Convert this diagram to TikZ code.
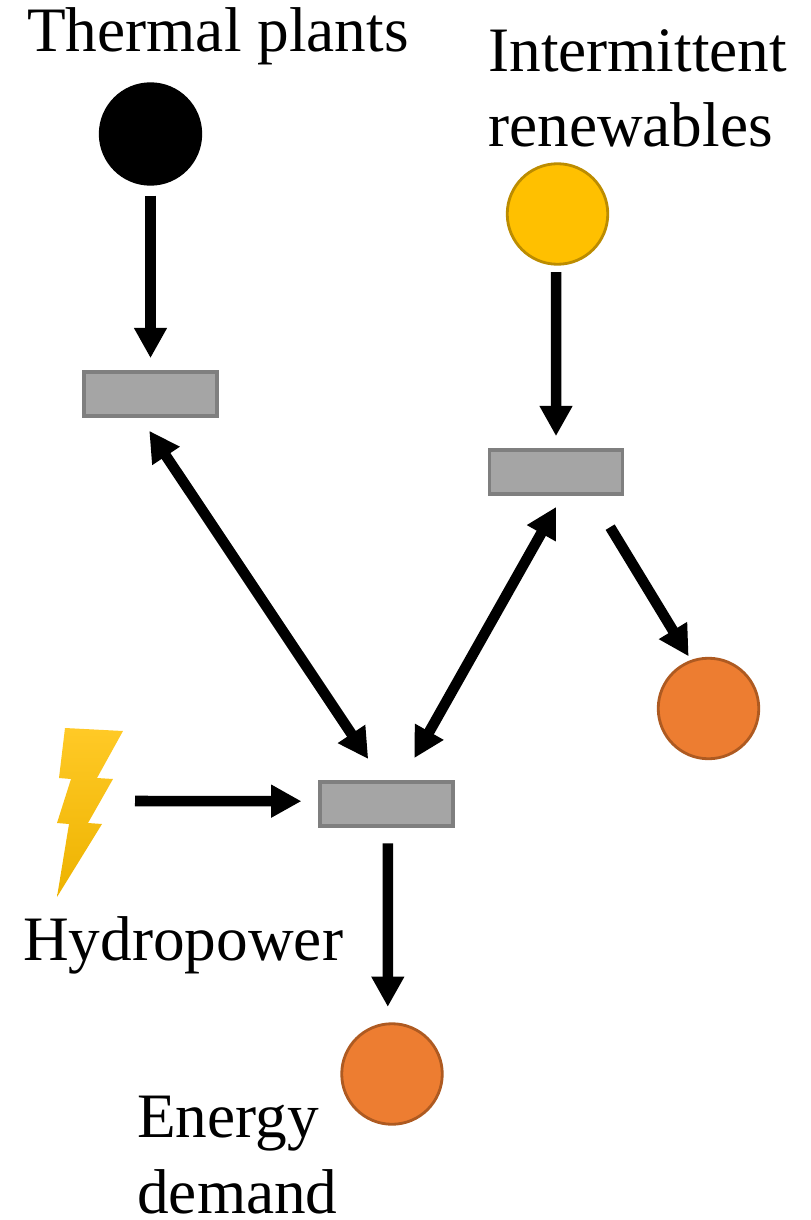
\documentclass[tikz,border=0pt]{standalone}
\usepackage{fontspec}
\setmainfont{Liberation Serif}
\usetikzlibrary{arrows.meta}

\definecolor{hubgray}{HTML}{A5A5A5}
\definecolor{hubedge}{HTML}{7F7F7F}
\definecolor{sunfill}{HTML}{FFC000}
\definecolor{sunedge}{HTML}{BC8C00}
\definecolor{loadfill}{HTML}{ED7D31}
\definecolor{loadedge}{HTML}{AE5A21}

\tikzset{
  hub/.style={draw=hubedge,fill=hubgray,line width=2.5pt,minimum width=94.5pt,minimum height=31.5pt,inner sep=0pt},
  plant/.style={circle,line width=2pt,minimum size=71.5pt,inner sep=0pt},
  flow/.style={line width=7.5pt,-{Triangle[length=21.5pt,width=22pt]}},
  duplex/.style={line width=7.5pt,{Triangle[length=21.5pt,width=22pt]}-{Triangle[length=21.5pt,width=22pt]}},
  label/.style={anchor=base west,inner sep=0pt,align=left,font=\fontsize{45}{53.6}\selectfont}
}

\begin{document}
\begin{tikzpicture}[x=0.025cm,y=-0.025cm]
  \useasboundingbox (0,0) rectangle (810,1220);

  \node (THERM) at (150.5,134) [plant,draw=black,fill=black] {};
  \node (SUN) at (557.5,214) [plant,draw=sunedge,fill=sunfill] {};
  \node (CURT) at (708.5,708.5) [plant,draw=loadedge,fill=loadfill] {};
  \node (DEMAND) at (392,1074) [plant,draw=loadedge,fill=loadfill] {};

  \node (HUBT) at (150.5,394) [hub] {};
  \node (HUBR) at (556,472) [hub] {};
  \node (HUBM) at (386.5,804) [hub] {};

  % bolt
  \shade[top color=sunfill!85!white,middle color=sunfill,bottom color=sunfill!93!black]
    (65,728) -- (123,731) -- (97,778) -- (113,779) -- (88,823) -- (102,824) -- (57,897)
    -- (69,824) -- (57,823) -- (71,779) -- (59,778) -- cycle;
  \coordinate (BOLT) at (135,801);

  \node (TTXT) at (27,52) [label] {Thermal plants};
  \node (RTXT) at (488,147) [label] {Intermittent\\renewables};
  \node (HTXT) at (23,960) [label] {Hydropower};
  \node (DTXT) at (137,1213) [label] {Energy\\demand};

  \draw[flow,shorten <=7pt,shorten >=8.5pt] (THERM.south) -- (HUBT.north);
  \draw[flow,shorten <=4.5pt,shorten >=8.5pt] ([xshift=-1pt]SUN.south) -- (HUBR.north);
  \draw[duplex,shorten <=11pt,shorten >=18pt] ([xshift=-7pt]HUBT.south) -- ([xshift=-3pt]HUBM.north);
  \draw[duplex,shorten <=9pt,shorten >=18pt] ([xshift=4.5pt]HUBR.south) -- ([xshift=11pt]HUBM.north);
  \draw[flow,shorten <=26pt,shorten >=3pt] ([xshift=25pt]HUBR.south) -- (CURT.110);
  \draw[flow] (BOLT) -- ([yshift=2pt,xshift=-12pt]HUBM.west);
  \draw[flow,shorten <=11pt,shorten >=11pt] ([xshift=1pt]HUBM.south) -- ([xshift=-3pt]DEMAND.north);
\end{tikzpicture}
\end{document}
